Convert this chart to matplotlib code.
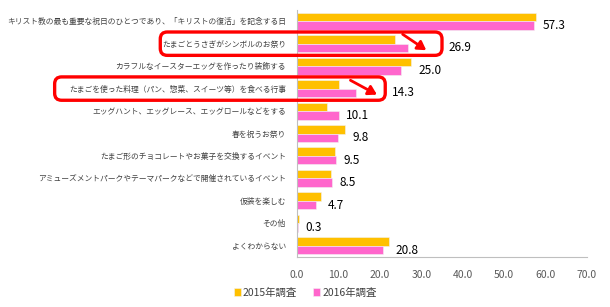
import numpy as np
import matplotlib.pyplot as plt
from matplotlib.patches import FancyBboxPatch
from matplotlib.transforms import IdentityTransform

plt.rcParams['font.family'] = ['Noto Sans CJK JP', 'DejaVu Sans']

categories = [
    'キリスト教の最も重要な祝日のひとつであり、「キリストの復活」を記念する日',
    'たまごとうさぎがシンボルのお祭り',
    'カラフルなイースターエッグを作ったり装飾する',
    'たまごを使った料理（パン、惣菜、スイーツ等）を食べる行事',
    'エッグハント、エッグレース、エッグロールなどをする',
    '春を祝うお祭り',
    'たまご形のチョコレートやお菓子を交換するイベント',
    'アミューズメントパークやテーマパークなどで開催されているイベント',
    '仮装を楽しむ',
    'その他',
    'よくわからない',
]
y2015 = [57.6, 23.6, 27.6, 10.2, 7.3, 11.7, 9.2, 8.1, 5.8, 0.4, 22.1]
y2016 = [57.3, 26.9, 25.0, 14.3, 10.1, 9.8, 9.5, 8.5, 4.7, 0.3, 20.8]
series_names = ['2015年調査', '2016年調査']
xticks = [0, 10, 20, 30, 40, 50, 60, 70]

# rows circled in red: (row, left x, right x) in data units
circled = [(1, -33.0, 35.0), (3, -58.5, 21.3)]
# red arrows: (start, end) in data coords
arrows = [((25.5, 0.58), (31.2, 1.29)), ((12.9, 2.63), (19.3, 3.27))]

c15 = '#FFC000'
c16 = '#FF66CC'

fig = plt.figure(figsize=(6.1, 3.07), dpi=100)
ax = fig.add_axes([297/610, 1 - 257/307, 290/610, 247/307])

y = np.arange(len(categories))
h = 0.38
ax.barh(y - h/2, y2015, height=h, color=c15, edgecolor='#f2f2f2', linewidth=0.4, label=series_names[0])
ax.barh(y + h/2, y2016, height=h, color=c16, edgecolor='#f2f2f2', linewidth=0.4, label=series_names[1])

ax.set_xlim(0, 70)
ax.set_ylim(len(categories) - 0.5, -0.5)
ax.set_xticks(xticks)
ax.set_xticklabels([f'{t:.1f}' for t in xticks], fontsize=7.5, color='#595959')
ax.set_yticks(y)
ax.set_yticklabels(categories, fontsize=5.6, color='#404040')
ax.tick_params(length=0)
ax.tick_params(axis='x', pad=9)
ax.tick_params(axis='y', pad=8)
for s in ['top', 'right']:
    ax.spines[s].set_visible(False)
for s in ['left', 'bottom']:
    ax.spines[s].set_color('#BFBFBF')
    ax.spines[s].set_linewidth(0.8)

circ_right = {r: right for r, left, right in circled}
for i, (a, b) in enumerate(zip(y2015, y2016)):
    x = circ_right[i] + 1.5 if i in circ_right else max(a, b) + 1.7
    ax.text(x, i + h/2, f'{b:.1f}', va='center', ha='left', fontsize=8.5, color='black')

# red rounded boxes around highlighted rows
fig.canvas.draw()
for r, left, right in circled:
    (x0, y0) = ax.transData.transform((left, r + 0.52))
    (x1, y1) = ax.transData.transform((right, r - 0.52))
    box = FancyBboxPatch((x0, y0), x1 - x0, y1 - y0,
                         boxstyle='round,pad=0,rounding_size=7',
                         transform=IdentityTransform(), fill=False,
                         edgecolor='#FF0000', linewidth=2.4, zorder=5)
    fig.patches.append(box)

for start, end in arrows:
    ax.annotate('', xy=end, xytext=start,
                arrowprops=dict(arrowstyle='-|>,head_length=0.5,head_width=0.3',
                                color='#FF0000', lw=2.0, shrinkA=0, shrinkB=0),
                annotation_clip=False)

fig.legend(loc='lower center', bbox_to_anchor=(0.5, 0.0), ncol=2, frameon=False,
           fontsize=7.5, handlelength=0.7, handleheight=0.7, handletextpad=0.2,
           columnspacing=1.5, labelcolor='#404040')

fig.savefig('out.png', dpi=100)
